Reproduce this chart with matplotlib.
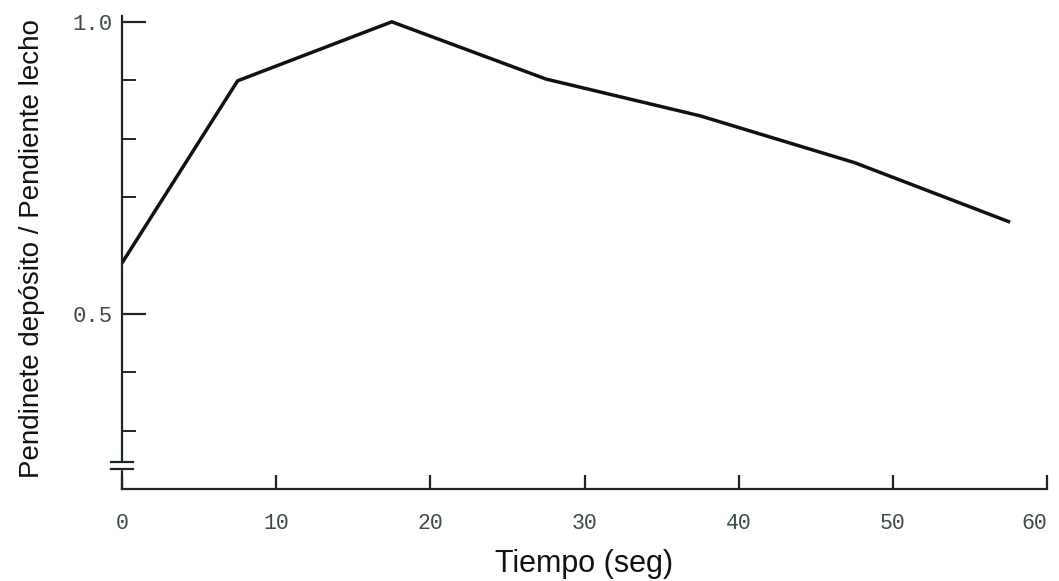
import matplotlib
matplotlib.use("Agg")
import matplotlib.pyplot as plt
from matplotlib import font_manager

# valores
tiempo = [0, 7.5, 17.5, 27.5, 37.5, 47.5, 57.5]
relacion = [0.587, 0.899, 1.0, 0.902, 0.839, 0.759, 0.658]
xticks = [0, 10, 20, 30, 40, 50, 60]
yticks_major = [0.5, 1.0]
ytick_labels = ["0.5", "1.0"]
yticks_minor = [0.3, 0.4, 0.7, 0.8, 0.9]

try:
    font_manager.findfont("Liberation Sans Narrow", fallback_to_default=False)
    ylab_font, ylab_size = "Liberation Sans Narrow", 23
except Exception:
    ylab_font, ylab_size = "Liberation Sans", 20

ink = "#1c2628"
tick_col = "#3f4a4d"

fig = plt.figure(figsize=(10.59, 5.81), dpi=100)
ax = fig.add_axes([0.1152, 0.1583, 0.8735, 0.8142])

ax.plot(tiempo, relacion, color="#111111", lw=2.5, solid_joinstyle="miter")

ax.set_xlim(0, 60)
ax.set_ylim(0.2, 1.01)

for s in ["top", "right"]:
    ax.spines[s].set_visible(False)
for s in ["left", "bottom"]:
    ax.spines[s].set_color(ink)
    ax.spines[s].set_linewidth(1.6)

ax.set_xticks(xticks)
ax.set_xticklabels([str(v) for v in xticks])
ax.set_yticks(yticks_major)
ax.set_yticklabels(ytick_labels)
ax.set_yticks(yticks_minor, minor=True)

ax.tick_params(axis="x", direction="in", length=10, width=1.6, color=ink,
               pad=17, labelsize=15.5, labelcolor=tick_col)
ax.tick_params(axis="y", which="major", direction="in", length=17, width=1.6,
               color=ink, pad=7, labelsize=16, labelcolor=tick_col)
ax.tick_params(axis="y", which="minor", direction="in", length=10, width=1.4,
               color=ink)
for lab in ax.get_xticklabels() + ax.get_yticklabels():
    lab.set_fontfamily("Liberation Mono")
# la ultima etiqueta queda pegada al borde
ax.get_xticklabels()[-1].set_horizontalalignment("right")
ax.get_xticklabels()[-1].set_x(61.3)

# marca de corte del eje y
tr = ax.get_yaxis_transform()
ax.fill_between([-0.012, 0.012], 0.2335, 0.2445, color="white",
                transform=tr, clip_on=False, zorder=5)
for yb in [0.2335, 0.2455]:
    ax.plot([-0.012, 0.012], [yb, yb], color=ink, lw=1.6,
            transform=tr, clip_on=False, zorder=6)

ax.set_xlabel("Tiempo (seg)", fontfamily="Liberation Sans", fontsize=22,
              color="#111111", labelpad=11)
fig.text(0.030, 0.573, "Pendinete depósito / Pendiente lecho", rotation=90,
         ha="center", va="center", fontfamily=ylab_font, fontsize=ylab_size,
         color="#111111")

fig.savefig("out.png", dpi=100, facecolor="white")
